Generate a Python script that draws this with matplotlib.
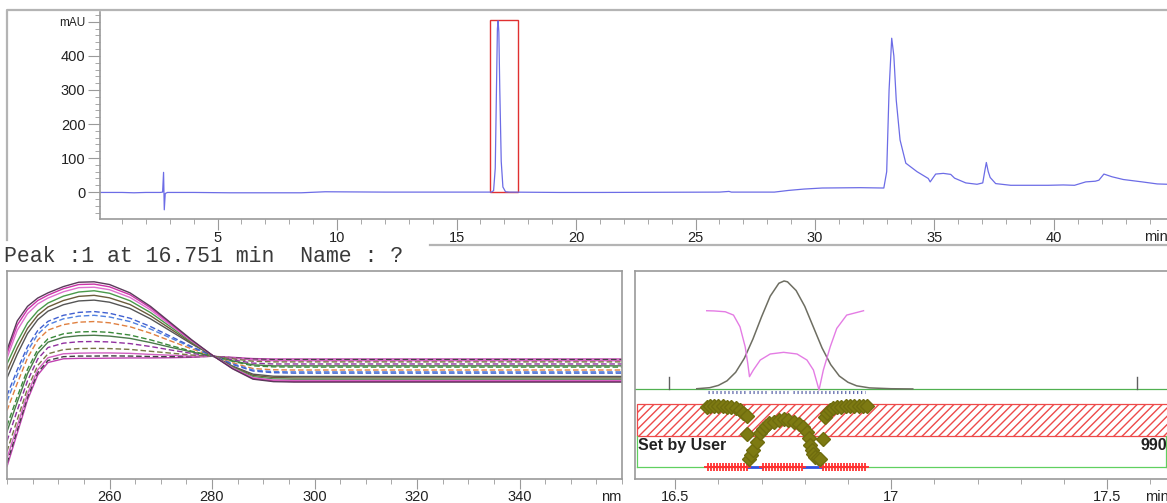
import matplotlib
matplotlib.use("Agg")
import matplotlib.pyplot as plt
from matplotlib.patches import Rectangle
from matplotlib.lines import Line2D
from matplotlib.ticker import FixedLocator, MultipleLocator

plt.rcParams['font.family'] = ['Liberation Sans', 'DejaVu Sans']
plt.rcParams['hatch.linewidth'] = 1.0

W, H = 1167, 503

# --- chromatogram (min, mAU) ---
chrom_t = [0.08, 1.0, 1.5, 2.0, 2.6, 2.70, 2.74, 2.77, 2.81, 2.9, 4.0, 5.5, 8.5, 9.5, 12.0,
           16.45, 16.55, 16.62, 16.67, 16.71, 16.74, 16.77, 16.81, 16.87, 16.94, 17.05, 17.2,
           19.3, 21.0, 26.0, 26.4, 26.5, 28.3, 28.9, 29.55, 30.3, 31.9, 32.88, 33.0, 33.1,
           33.21, 33.30, 33.40, 33.56, 33.80, 34.27, 34.74, 34.82, 35.05, 35.37, 35.68, 35.84,
           36.31, 36.78, 37.02, 37.10, 37.17, 37.25, 37.33, 37.56, 38.19, 39.76, 40.39, 40.86,
           41.33, 41.73, 41.88, 42.09, 42.43, 42.90, 43.69, 44.32, 44.76]
chrom_y = [-1, -1, -2, -1, -1, 0, 58, -52, -4, -1, -1, -2, -2, 1, 0,
           0, 4, 70, 300, 480, 503, 470, 300, 90, 15, 1, 0,
           -1, -1, 0, 2, 0, 0, 5, 9, 12, 13, 12, 60, 300,
           452, 400, 270, 153, 85, 60, 40, 30, 53, 55, 52, 41,
           27, 23, 27, 60, 87, 60, 43, 25, 20, 20, 21, 20,
           30, 32, 35, 53, 45, 37, 30, 24, 23]
box_t = [16.42, 17.56]
box_top = 506
y_ticks = [0, 100, 200, 300, 400, 500]
y_labels = ['0', '100', '200', '300', '400', 'mAU']
x_ticks = [5, 10, 15, 20, 25, 30, 35, 40]

# --- overlaid spectra (nm, normalised absorbance) ---
wl = [240, 242, 244, 246, 248, 251, 254, 257, 260, 264, 268, 272, 276, 280, 284, 288, 292, 296, 300, 360]
spectra = [
    [6.0, 22.0, 38.0, 50.0, 56.0, 57.8, 58.0, 58.0, 58.1, 58.2, 58.2, 58.3, 58.5, 59.0, 58.5, 57.9, 57.7, 57.7, 57.7, 57.7],
    [7.7, 23.5, 39.3, 51.1, 57.0, 58.8, 59.1, 59.1, 59.2, 59.1, 58.9, 58.8, 58.8, 59.0, 58.3, 57.6, 57.4, 57.4, 57.4, 57.4],
    [9.9, 25.5, 40.9, 52.5, 58.3, 60.2, 60.5, 60.6, 60.6, 60.4, 59.9, 59.5, 59.1, 59.0, 58.1, 57.2, 56.9, 56.9, 56.9, 56.9],
    [13.3, 28.5, 43.5, 54.6, 60.2, 62.2, 62.7, 62.8, 62.7, 62.3, 61.4, 60.5, 59.6, 59.1, 57.8, 56.6, 56.3, 56.3, 56.3, 56.3],
    [18.3, 33.0, 47.2, 57.7, 63.2, 65.3, 66.0, 66.1, 65.9, 65.1, 63.7, 62.0, 60.4, 59.1, 57.3, 55.7, 55.3, 55.3, 55.3, 55.3],
    [22.8, 37.0, 50.6, 60.5, 65.8, 68.1, 68.9, 69.1, 68.7, 67.6, 65.6, 63.3, 61.1, 59.2, 56.8, 54.9, 54.4, 54.4, 54.4, 54.4],
    [25.6, 39.5, 52.7, 62.3, 67.4, 69.8, 70.7, 70.9, 70.5, 69.2, 66.9, 64.1, 61.5, 59.2, 56.6, 54.4, 53.9, 53.8, 53.8, 53.8],
    [32.9, 46.0, 58.2, 66.8, 71.6, 74.2, 75.4, 75.7, 75.1, 73.2, 70.1, 66.3, 62.6, 59.3, 55.9, 53.1, 52.5, 52.4, 52.4, 52.4],
    [37.4, 50.0, 61.5, 69.6, 74.2, 77.0, 78.3, 78.7, 77.9, 75.7, 72.1, 67.7, 63.3, 59.3, 55.4, 52.4, 51.6, 51.5, 51.5, 51.5],
    [40.2, 52.5, 63.6, 71.4, 75.8, 78.7, 80.1, 80.5, 79.7, 77.3, 73.3, 68.5, 63.7, 59.4, 55.1, 51.9, 51.1, 50.9, 50.9, 50.9],
    [48.6, 60.0, 69.9, 76.6, 80.7, 83.8, 85.6, 86.0, 85.0, 82.0, 77.0, 71.0, 65.0, 59.5, 54.3, 50.4, 49.4, 49.3, 49.3, 49.3],
    [51.9, 63.0, 72.4, 78.7, 82.7, 85.8, 87.8, 88.3, 87.1, 83.9, 78.5, 72.0, 65.5, 59.5, 54.0, 49.8, 48.8, 48.6, 48.6, 48.6],
    [55.3, 66.0, 75.0, 80.8, 84.6, 87.9, 89.9, 90.5, 89.3, 85.7, 80.0, 73.0, 66.0, 59.5, 53.7, 49.2, 48.1, 47.9, 47.9, 47.9],
    [58.1, 71.5, 79.5, 84.2, 87.0, 90.0, 92.0, 92.2, 91.0, 87.3, 81.3, 73.8, 66.4, 59.6, 53.4, 48.7, 47.6, 47.4, 47.4, 47.4],
    [60.3, 74.0, 81.5, 85.8, 88.4, 91.5, 93.5, 93.7, 92.4, 88.6, 82.3, 74.5, 66.7, 59.6, 53.2, 48.3, 47.1, 46.9, 46.9, 46.9],
    [62.0, 76.0, 83.0, 87.0, 89.5, 92.5, 94.6, 94.8, 93.5, 89.5, 83.0, 75.0, 67.0, 59.6, 53.0, 48.0, 46.8, 46.6, 46.6, 46.6],
]
spec_colors = ['#c040b0', '#404040', '#d060c0', '#777744', '#9030a0', '#4a7a4a', '#3a8a3a', '#e08040',
               '#5080e0', '#4060d0', '#555555', '#6b5b3b', '#4a9a4a', '#e070d0', '#cc33aa', '#5a3a5a']
spec_dash = [False, True, False, True, True, False, True, True,
             True, True, False, False, False, False, False, False]
spec_ticks = [260, 280, 300, 320, 340]

# --- peak purity panel (min, panel units) ---
peak_t = [16.55, 16.58, 16.60, 16.62, 16.64, 16.66, 16.68, 16.70, 16.72, 16.74, 16.752, 16.76,
          16.78, 16.80, 16.82, 16.84, 16.86, 16.88, 16.90, 16.92, 16.95, 17.00, 17.05]
peak_y = [43.4, 43.9, 45.0, 47.2, 51.3, 58.0, 67.3, 78.0, 87.9, 94.1, 95.2, 94.8,
          90.6, 83.0, 73.0, 63.0, 55.0, 49.5, 46.5, 44.8, 43.8, 43.4, 43.3]
sim_t = [16.573, 16.590, 16.616, 16.635, 16.650, 16.662, 16.668, 16.672, 16.681, 16.697, 16.720,
         16.751, 16.782, 16.805, 16.820, 16.833, 16.843, 16.859, 16.874, 16.897, 16.936]
sim_y = [80.9, 80.8, 80.4, 78.8, 73.2, 63.6, 55.6, 49.2, 52.4, 57.2, 60.1,
         60.9, 60.1, 57.2, 52.4, 42.8, 52.4, 63.6, 72.4, 78.8, 80.9]
baseline_y = 43.3
scan_segments = [(16.576, 16.662), (16.672, 16.712), (16.722, 16.762), (16.772, 16.940)]
pur_t = [16.573, 16.58, 16.59, 16.60, 16.61, 16.62, 16.63, 16.64, 16.65, 16.658, 16.666,
         16.666,
         16.670, 16.675, 16.681, 16.689, 16.697, 16.703, 16.710, 16.718, 16.728, 16.740, 16.751,
         16.762, 16.774, 16.786, 16.797, 16.805, 16.809, 16.813, 16.816, 16.820, 16.824, 16.830, 16.836,
         16.843,
         16.847, 16.852, 16.858, 16.866, 16.875, 16.885, 16.895, 16.905, 16.915, 16.925, 16.935, 16.944]
pur_y = [34.8, 35.0, 35.0, 34.9, 34.9, 34.8, 34.6, 34.3, 33.2, 31.6, 30.3,
         21.6,
         9.6, 11.5, 13.9, 17.9, 21.9, 24.0, 25.6, 26.8, 27.6, 28.4, 28.7,
         28.5, 27.6, 26.6, 25.2, 22.5, 19.5, 16.5, 13.9, 12.0, 10.7, 9.9, 9.6,
         19.2,
         30.0, 31.8, 33.0, 34.0, 34.5, 34.8, 34.9, 35.0, 35.0, 35.0, 35.0, 35.0]
thr_low, thr_high = 20.8, 35.9
red_groups = [
    [16.575, 16.582, 16.589, 16.596, 16.603, 16.610, 16.617, 16.624, 16.631, 16.638, 16.645, 16.652, 16.659, 16.666],
    [16.703, 16.710, 16.717, 16.724, 16.731, 16.738, 16.745, 16.752, 16.759, 16.766, 16.773, 16.780, 16.787, 16.794],
    [16.842, 16.849, 16.856, 16.863, 16.870, 16.877, 16.884, 16.891, 16.898, 16.905, 16.912, 16.919, 16.926, 16.933, 16.940],
]
blue_segments = [(16.669, 16.700), (16.797, 16.840)]
pur_ticks = [16.5, 17.0, 17.5]
pur_labels = ['16.5', '17', '17.5']

GRAY = '#9a9a9a'
TXT = '#222222'
LBL = 10.5


def px_axes(fig, left, top, right, bottom):
    return fig.add_axes([left / W, 1 - bottom / H, (right - left) / W, (bottom - top) / H])


def fig_line(fig, xs, ys, **kw):
    fig.add_artist(Line2D([x / W for x in xs], [1 - y / H for y in ys],
                          transform=fig.transFigure, **kw))


fig = plt.figure(figsize=(W / 100, H / 100), dpi=100)

# outer frame of the chromatogram window
fig_line(fig, [7, 7, 1167], [240, 10, 10], color='#b4b4b4', lw=1.6)
fig_line(fig, [430, 1167], [245, 245], color='#b4b4b4', lw=1.6)

# ---------------- top: chromatogram ----------------
ax = px_axes(fig, 100, 12, 1167, 219)
ax.plot(chrom_t, chrom_y, color='#6c6ce6', lw=0.9)
ax.add_patch(Rectangle((box_t[0], 0), box_t[1] - box_t[0], box_top,
                       fill=False, edgecolor='#e03030', lw=1.0))
ax.set_xlim(0.08, 44.73)
ax.set_ylim(-79, 529)
for s in ['top', 'right']:
    ax.spines[s].set_visible(False)
for s in ['left', 'bottom']:
    ax.spines[s].set_color(GRAY)
    ax.spines[s].set_linewidth(1.2)
ax.xaxis.set_major_locator(FixedLocator(x_ticks))
ax.xaxis.set_minor_locator(MultipleLocator(1))
ax.yaxis.set_major_locator(FixedLocator(y_ticks))
ax.set_yticklabels(y_labels)
ax.yaxis.set_minor_locator(MultipleLocator(20))
ax.tick_params(axis='x', which='major', length=8, pad=0.3, color=GRAY, labelsize=LBL, labelcolor=TXT)
ax.tick_params(axis='x', which='minor', length=3.5, color=GRAY)
ax.tick_params(axis='y', which='major', length=8.5, pad=2, color=GRAY, labelsize=LBL, labelcolor=TXT)
ax.tick_params(axis='y', which='minor', length=3.5, color=GRAY)
ax.get_yticklabels()[-1].set_fontsize(8.5)
ax.text(43.75, -11 / 207, 'min', transform=ax.get_xaxis_transform(),
        ha='left', va='top', fontsize=LBL, color=TXT, clip_on=False)

fig.text(4 / W, 1 - 256 / H, 'Peak :1 at 16.751 min  Name : ?', family=['Liberation Mono', 'DejaVu Sans Mono'],
         fontsize=15.5, color='#3a3a3a', va='center', ha='left')

# ---------------- bottom left: spectra ----------------
ax2 = px_axes(fig, 7, 271, 622, 479)
for row, c, d in zip(spectra, spec_colors, spec_dash):
    ax2.plot(wl, row, color=c, lw=1.0, ls=(0, (4, 2)) if d else '-')
ax2.set_xlim(240, 360)
ax2.set_ylim(0, 100)
for s in ax2.spines.values():
    s.set_color(GRAY)
    s.set_linewidth(1.2)
ax2.set_yticks([])
ax2.xaxis.set_major_locator(FixedLocator(spec_ticks))
ax2.xaxis.set_minor_locator(MultipleLocator(5))
ax2.tick_params(axis='x', which='major', length=7, pad=0.6, color=GRAY, labelsize=LBL, labelcolor=TXT)
ax2.tick_params(axis='x', which='minor', length=3.5, color=GRAY)
ax2.text(356.0, -11 / 208, 'nm', transform=ax2.get_xaxis_transform(),
         ha='left', va='top', fontsize=LBL, color=TXT, clip_on=False)

# ---------------- bottom right: peak purity ----------------
ax3 = px_axes(fig, 635, 271, 1175, 479)
ax3.set_xlim(16.407, 17.657)
ax3.set_ylim(0, 100)
box_r = 17.636
ax3.plot([16.412, box_r], [5.9, 5.9], color='#60d060', lw=0.9)
ax3.plot([16.412, 16.412], [5.9, thr_low], color='#60d060', lw=0.9)
ax3.plot([box_r, box_r], [5.9, thr_low], color='#60d060', lw=0.9)
ax3.plot([16.407, 17.657], [baseline_y, baseline_y], color='#50b050', lw=0.9)
for t in [16.485, 17.57]:
    ax3.plot([t, t], [baseline_y, 49.0], color='#606060', lw=1.0)
ax3.add_patch(Rectangle((16.412, thr_low), 1.3, thr_high - thr_low, facecolor='white',
                        hatch='////', edgecolor='#ee4a4a', lw=0.9))
ax3.plot(peak_t, peak_y, color='#6e6e62', lw=1.1)
ax3.plot(sim_t, sim_y, color='#e47ce4', lw=1.0)
for a, b in scan_segments:
    ax3.plot([a, b], [41.8, 41.8], color='#5a64a8', lw=2.2, ls=(0, (0.4, 0.9)))
for a, b in blue_segments:
    ax3.plot([a, b], [5.6, 5.6], color='#3050e0', lw=2.0)
for g in red_groups:
    ax3.plot(g, [5.9] * len(g), color='#ff3030', lw=1.5, marker='+', ms=6, mew=1.3)
ax3.plot(pur_t, pur_y, ls='none', marker='D', ms=7, color='#7d7a12', mec='#6f6c0e')
ax3.text(16.415, 16.3, 'Set by User', fontsize=11.5, fontweight='bold', color=TXT, va='center', ha='left')
ax3.text(17.576, 16.3, '990', fontsize=11.5, fontweight='bold', color=TXT, va='center', ha='left')
for s in ['top', 'left', 'bottom']:
    ax3.spines[s].set_color(GRAY)
    ax3.spines[s].set_linewidth(1.2)
ax3.spines['right'].set_visible(False)
ax3.set_yticks([])
ax3.xaxis.set_major_locator(FixedLocator(pur_ticks))
ax3.set_xticklabels(pur_labels)
ax3.xaxis.set_minor_locator(MultipleLocator(0.1))
ax3.tick_params(axis='x', which='major', length=7, pad=0.6, color=GRAY, labelsize=LBL, labelcolor=TXT)
ax3.tick_params(axis='x', which='minor', length=3.5, color=GRAY)
ax3.text(17.588, -11 / 208, 'min', transform=ax3.get_xaxis_transform(),
         ha='left', va='top', fontsize=LBL, color=TXT, clip_on=False)

fig.savefig('out.png', dpi=100)
